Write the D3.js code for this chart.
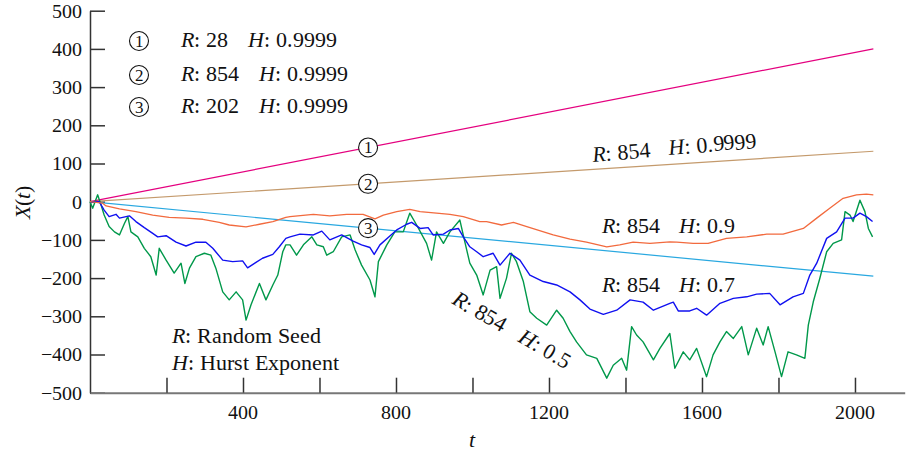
<!DOCTYPE html>
<html>
<head>
<meta charset="utf-8">
<script src="https://cdn.jsdelivr.net/npm/d3@7"></script>
<style>
  @font-face { font-family: "ChartSerif"; src: local("Liberation Serif"), local("LiberationSerif"); font-style: normal; }
  @font-face { font-family: "ChartSerif"; src: local("Liberation Serif Italic"), local("LiberationSerif-Italic"); font-style: italic; }
</style>
</head>
<body style="margin:0">
<svg id="chart" width="906" height="451"></svg>
<script>
/* fractional Brownian motion paths */
const yTicks = [-500, -400, -300, -200, -100, 0, 100, 200, 300, 400, 500];
const xTicks = [200, 400, 600, 800, 1000, 1200, 1400, 1600, 1800, 2000];
const xLabelled = [400, 800, 1200, 1600, 2000];

// H = 0.9999, nearly straight
const lineR28 = [[0, 0], [2048, 400]];
const lineR854 = [[0, 0], [2048, 132]];
const lineR202 = [[0, 0], [2048, -195]];

// R 854, H 0.9
const h09 = [[0,0],[33,-4],[42,-11],[77,-19],[120,-26],[164,-35],[207,-41],[251,-43],[295,-46],[338,-54],
  [364,-61],[408,-66],[443,-59],[478,-52],[512,-41],[523,-39],[584,-33],[627,-37],[671,-33],[714,-33],
  [745,-45],[767,-35],[802,-26],[836,-20],[863,-26],[906,-30],[941,-33],[976,-39],[1019,-52],[1037,-52],
  [1076,-61],[1107,-54],[1142,-65],[1211,-87],[1255,-98],[1298,-106],[1351,-118],[1385,-113],[1420,-106],
  [1464,-109],[1516,-105],[1534,-106],[1577,-109],[1616,-109],[1664,-96],[1717,-92],[1769,-85],[1812,-85],
  [1865,-70],[1900,-43],[1934,-17],[1969,9],[2004,18],[2030,20],[2048,18]];

// R 854, H 0.7
const h07 = [[0,0],[24,0],[37,-22],[50,-39],[68,-33],[77,-43],[103,-37],[120,-52],[142,-68],[164,-83],
  [177,-92],[199,-89],[225,-106],[251,-116],[277,-106],[303,-106],[321,-122],[347,-153],[373,-157],[399,-155],
  [412,-173],[434,-159],[451,-148],[478,-138],[495,-118],[512,-96],[523,-92],[549,-85],[584,-87],[606,-77],
  [627,-100],[658,-87],[688,-103],[710,-113],[732,-120],[743,-138],[758,-113],[784,-90],[802,-74],[828,-59],
  [841,-54],[863,-70],[884,-68],[897,-87],[924,-85],[941,-74],[963,-70],[976,-92],[993,-118],[1011,-131],
  [1028,-144],[1054,-135],[1072,-166],[1098,-135],[1124,-153],[1150,-192],[1185,-209],[1220,-218],[1255,-236],
  [1281,-257],[1307,-281],[1342,-295],[1377,-284],[1412,-257],[1446,-263],[1473,-284],[1516,-266],[1525,-263],
  [1538,-286],[1568,-286],[1586,-279],[1612,-297],[1647,-266],[1682,-253],[1717,-249],[1743,-242],[1777,-240],
  [1804,-270],[1838,-249],[1865,-240],[1882,-192],[1900,-161],[1926,-96],[1952,-79],[1974,-43],[1995,-43],
  [2013,-30],[2030,-39],[2046,-52]];

// R 854, H 0.5
const h05 = [[0,0],[7,-17],[20,18],[29,-9],[37,-35],[50,-65],[64,-79],[77,-87],[90,-57],[99,-39],
  [107,-79],[125,-92],[142,-122],[159,-144],[173,-192],[181,-122],[199,-153],[220,-187],[238,-161],[248,-214],
  [260,-174],[277,-144],[299,-135],[316,-140],[329,-174],[347,-236],[364,-257],[382,-236],[399,-257],[408,-310],
  [421,-270],[443,-214],[460,-257],[478,-218],[491,-192],[504,-131],[512,-113],[523,-113],[540,-140],[558,-113],
  [580,-92],[593,-113],[610,-118],[619,-140],[636,-131],[658,-92],[680,-87],[693,-126],[710,-166],[732,-205],
  [745,-249],[754,-157],[776,-113],[797,-79],[819,-79],[836,-30],[854,-61],[880,-109],[893,-153],[906,-79],
  [924,-109],[941,-79],[967,-48],[980,-105],[993,-161],[1011,-192],[1028,-244],[1046,-179],[1063,-170],[1072,-253],
  [1089,-200],[1102,-135],[1115,-157],[1133,-209],[1150,-288],[1168,-305],[1194,-323],[1220,-284],[1237,-305],
  [1255,-340],[1272,-367],[1298,-401],[1325,-410],[1351,-462],[1368,-428],[1390,-410],[1403,-441],[1416,-327],
  [1429,-349],[1446,-367],[1473,-414],[1490,-384],[1516,-345],[1529,-436],[1551,-393],[1568,-414],[1586,-384],
  [1612,-458],[1629,-401],[1647,-367],[1664,-340],[1682,-358],[1704,-327],[1721,-401],[1743,-331],[1760,-375],
  [1773,-327],[1791,-393],[1808,-458],[1825,-393],[1847,-401],[1869,-410],[1878,-323],[1891,-262],[1908,-201],
  [1926,-131],[1943,-109],[1965,-100],[1974,-26],[1987,-35],[1995,-52],[2013,4],[2026,-26],[2035,-70],[2046,-92]];

const series = [
  { name: 'R202', data: lineR202, color: '#29a8e0', width: 1.2 },
  { name: 'R854', data: lineR854, color: '#c49a6c', width: 1.2 },
  { name: 'R28', data: lineR28, color: '#e4007f', width: 1.2 },
  { name: 'h05', data: h05, color: '#00984a', width: 1.4 },
  { name: 'h07', data: h07, color: '#1010f0', width: 1.4 },
  { name: 'h09', data: h09, color: '#f26a3e', width: 1.3 }
];

const legendRows = [
  { num: '1', r: '28', h: '0.9999', hx: 248 },
  { num: '2', r: '854', h: '0.9999', hx: 259 },
  { num: '3', r: '202', h: '0.9999', hx: 259 }
];
// circled markers on the H = 0.9999 lines, at t = 727
const markers = [
  { num: '1', t: 727, line: lineR28 },
  { num: '2', t: 727, line: lineR854 },
  { num: '3', t: 727, line: lineR202 }
];

const FAMILY = '"ChartSerif", "Liberation Serif", "Times New Roman", Tinos, serif';
const svg = d3.select('#chart');
const x = d3.scaleLinear().domain([0, 2130]).range([90, 904.7]);
const y = d3.scaleLinear().domain([-500, 500]).range([392.7, 10.7]);

const fmt = d => (d < 0 ? '\u2212' + Math.abs(d) : String(d));

const yAxis = svg.append('g')
  .attr('transform', `translate(${x(0)},0)`)
  .call(d3.axisLeft(y).tickValues(yTicks).tickSizeInner(-15).tickSizeOuter(0).tickPadding(8).tickFormat(fmt));
const xAxis = svg.append('g')
  .attr('transform', `translate(0,${y(-500)})`)
  .call(d3.axisBottom(x).tickValues(xTicks).tickSizeInner(-15).tickSizeOuter(0).tickPadding(12)
    .tickFormat(d => xLabelled.includes(d) ? d : ''));
[yAxis, xAxis].forEach(a => {
  a.attr('font-family', FAMILY).attr('font-size', 20);
  a.selectAll('line').attr('stroke', '#333').attr('stroke-width', 1.5);
  a.select('.domain').attr('stroke', '#333').attr('stroke-width', 1.5);
  a.selectAll('text').attr('fill', '#111');
});
xAxis.select('.domain').attr('stroke', '#777').attr('stroke-width', 2);

const line = d3.line().x(d => x(d[0])).y(d => y(d[1]));
svg.append('g').selectAll('path').data(series).enter().append('path')
  .attr('d', d => line(d.data))
  .attr('fill', 'none')
  .attr('stroke', d => d.color)
  .attr('stroke-width', d => d.width)
  .attr('stroke-linejoin', 'round');

function circled(g, cx, cy, r, num) {
  g.append('circle').attr('cx', cx).attr('cy', cy).attr('r', r)
    .attr('fill', '#fff').attr('stroke', '#111').attr('stroke-width', 1.1);
  g.append('text').attr('x', cx).attr('y', cy + r * 0.62).attr('text-anchor', 'middle')
    .attr('font-family', FAMILY).attr('font-size', r * 1.8).attr('fill', '#111').text(num);
}

// markers on lines
const mg = svg.append('g');
markers.forEach(m => {
  const [t0, v0] = m.line[0], [t1, v1] = m.line[1];
  const v = v0 + (v1 - v0) * (m.t - t0) / (t1 - t0);
  circled(mg, x(m.t), y(v), 9.5, m.num);
});

function txt(g) {
  return g.append('text').attr('font-family', FAMILY).attr('font-size', 22).attr('fill', '#111');
}

// legend top left
const lg = svg.append('g');
legendRows.forEach((row, i) => {
  const base = [47, 81, 113][i];
  circled(lg, 139, base - 6, 9.5, row.num);
  const t = txt(lg).attr('x', 181).attr('y', base);
  t.append('tspan').attr('font-style', 'italic').text('R');
  t.append('tspan').text(': ' + row.r);
  const t2 = txt(lg).attr('x', row.hx).attr('y', base);
  t2.append('tspan').attr('font-style', 'italic').text('H');
  t2.append('tspan').text(': ' + row.h);
});

// annotations
function rh(g, xx, yy, rot, r, h, gap) {
  const t = txt(g).attr('transform', `translate(${xx},${yy}) rotate(${rot})`);
  t.append('tspan').attr('font-style', 'italic').text('R');
  t.append('tspan').text(': ' + r);
  t.append('tspan').attr('dx', gap).attr('font-style', 'italic').text('H');
  t.append('tspan').text(': ' + h);
}
const ag = svg.append('g');
rh(ag, 593, 162, -5, '854', '0.9999', 18);
rh(ag, 602, 233, 0, '854', '0.9', 19);
rh(ag, 602, 292, 0, '854', '0.7', 19);
rh(ag, 451, 303, 30, '854', '0.5', 18);

const note = svg.append('g');
[['R', ': Random Seed', 343], ['H', ': Hurst Exponent', 370]].forEach(d => {
  const t = txt(note).attr('x', 172).attr('y', d[2]);
  t.append('tspan').attr('font-style', 'italic').text(d[0]);
  t.append('tspan').text(d[1]);
});

// axis titles
txt(svg).attr('x', 472).attr('y', 447)
  .attr('text-anchor', 'middle').attr('font-style', 'italic').text('t');
const yl = txt(svg).attr('text-anchor', 'middle')
  .attr('transform', 'translate(30,202) rotate(-90)');
yl.append('tspan').attr('font-style', 'italic').text('X');
yl.append('tspan').text('(');
yl.append('tspan').attr('font-style', 'italic').text('t');
yl.append('tspan').text(')');
</script>
</body>
</html>
